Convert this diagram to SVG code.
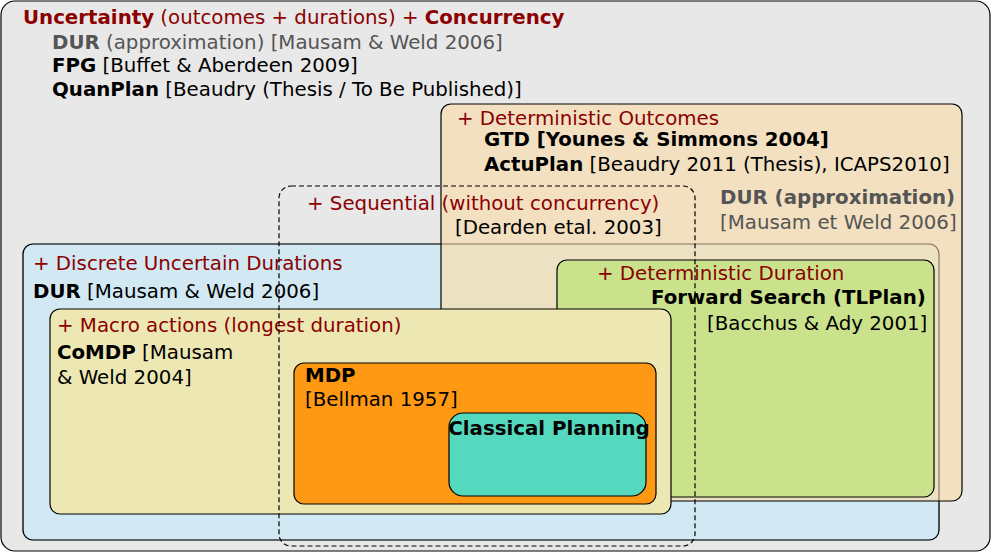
<svg xmlns="http://www.w3.org/2000/svg" width="992" height="553" viewBox="0 0 992 553">
<style>
text{font-family:"DejaVu Sans",sans-serif;font-size:19.8px;fill:#000}
.r{fill:#8b0000}
.g{fill:#555}
.b{font-weight:bold}
rect{stroke:#000;stroke-width:1.2}
</style>
<g id="outer">
<rect x="1" y="1" width="989" height="550" rx="14" fill="#e8e8e8"/>
<text x="23" y="24" class="r" font-size="21"><tspan class="b r">Uncertainty</tspan> (outcomes + durations) + <tspan class="b r">Concurrency</tspan></text>
<text x="52" y="49" class="g"><tspan class="b g">DUR</tspan> (approximation) [Mausam &amp; Weld 2006]</text>
<text x="52" y="72"><tspan class="b">FPG</tspan> [Buffet &amp; Aberdeen 2009]</text>
<text x="52" y="96"><tspan class="b">QuanPlan</tspan> [Beaudry (Thesis / To Be Published)]</text>
</g>
<g id="discrete">
<rect x="23" y="244" width="916" height="296" rx="10" fill="#d2e9f3" stroke="#333"/>
<text x="33" y="270" class="r">+ Discrete Uncertain Durations</text>
<text x="33" y="298"><tspan class="b">DUR</tspan> [Mausam &amp; Weld 2006]</text>
</g>
<g id="detout">
<rect x="441" y="104" width="521" height="397" rx="10" fill="#f5deb3" fill-opacity="0.75"/>
<text x="457" y="125" class="r">+ Deterministic Outcomes</text>
<text x="484" y="146" class="b">GTD [Younes &amp; Simmons 2004]</text>
<text x="484" y="171"><tspan class="b">ActuPlan</tspan> [Beaudry 2011 (Thesis), ICAPS2010]</text>
<text x="720" y="204" class="b g">DUR (approximation)</text>
<text x="720" y="229" class="g">[Mausam et Weld 2006]</text>
</g>
<rect x="23" y="244" width="916" height="296" rx="10" fill="none" stroke="#333" stroke-opacity="0.25"/>
<g id="detdur">
<rect x="557" y="260" width="377" height="237" rx="10" fill="#cbe28c"/>
<text x="597" y="280" class="r">+ Deterministic Duration</text>
<text x="651" y="304" class="b">Forward Search (TLPlan)</text>
<text x="707" y="330">[Bacchus &amp; Ady 2001]</text>
</g>
<g id="macro">
<rect x="50" y="309" width="621" height="205" rx="10" fill="#ede8b3"/>
<text x="57" y="332" class="r">+ Macro actions (longest duration)</text>
<text x="57" y="359"><tspan class="b">CoMDP</tspan> [Mausam</text>
<text x="57" y="384">&amp; Weld 2004]</text>
</g>
<g id="mdp">
<rect x="294" y="363" width="362" height="141" rx="10" fill="#ff9914"/>
<text x="305" y="382" class="b">MDP</text>
<text x="305" y="406">[Bellman 1957]</text>
</g>
<g id="classical">
<rect x="449" y="413" width="197" height="83" rx="14" fill="#55d9be"/>
<text x="549" y="435" class="b" font-size="14" text-anchor="middle">Classical Planning</text>
</g>
<g id="sequential">
<rect x="279" y="186" width="416" height="360" rx="12" fill="none" stroke="#666" stroke-width="1.8" stroke-dasharray="5,3"/>
<text x="307" y="210" class="r">+ Sequential (without concurrency)</text>
<text x="455" y="234" font-size="15.7">[Dearden etal. 2003]</text>
</g>
<g id="connectors"/>
</svg>
